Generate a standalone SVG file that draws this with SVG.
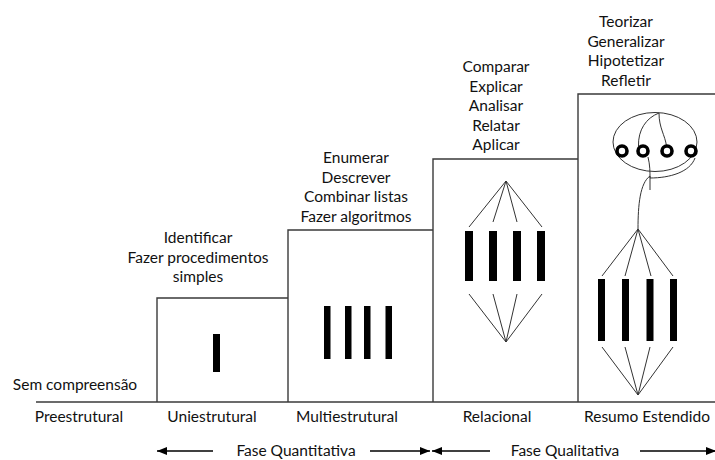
<svg xmlns="http://www.w3.org/2000/svg" width="715" height="460" viewBox="0 0 715 460">
  <style>
    text { font-family: Lato, "Open Sans", "Liberation Sans", sans-serif; font-size: 15.5px; fill: #111; text-anchor: middle; }
    .step { fill: none; stroke: #3a3a3a; stroke-width: 1.4; }
    .bar { fill: #000; }
    .fan { fill: none; stroke: #333; stroke-width: 1; }
    .ring { fill: none; stroke: #000; stroke-width: 3.6; }
    .arrow { stroke: #000; stroke-width: 1.3; fill: none; }
  </style>
  <defs>
    <marker id="head" viewBox="0 0 10 8" refX="10" refY="4" markerWidth="10" markerHeight="8" markerUnits="userSpaceOnUse" orient="auto">
      <path d="M0,0 L10,4 L0,8 Z" fill="#000"/>
    </marker>
  </defs>

  <!-- ground line -->
  <line class="step" x1="36" y1="402" x2="715" y2="402"/>

  <!-- Preestrutural -->
  <g id="preestrutural">
    <text x="75" y="390">Sem compreensão</text>
    <text x="79" y="422">Preestrutural</text>
  </g>

  <!-- Uniestrutural -->
  <g id="uniestrutural">
    <polyline class="step" points="157,402 157,298 288,298"/>
    <rect class="bar" x="213" y="334" width="7" height="38"/>
    <text x="198" y="243">Identificar</text>
    <text x="198" y="262.5">Fazer procedimentos</text>
    <text x="198" y="282">simples</text>
    <text x="212" y="422">Uniestrutural</text>
  </g>

  <!-- Multiestrutural -->
  <g id="multiestrutural">
    <polyline class="step" points="288,402 288,230 433,230"/>
    <rect class="bar" x="324" y="306" width="6.5" height="53"/>
    <rect class="bar" x="345" y="306" width="6.5" height="53"/>
    <rect class="bar" x="364" y="306" width="6.5" height="53"/>
    <rect class="bar" x="385.5" y="306" width="6.5" height="53"/>
    <text x="356" y="163">Enumerar</text>
    <text x="356" y="182.5">Descrever</text>
    <text x="356" y="202">Combinar listas</text>
    <text x="356" y="221.5">Fazer algoritmos</text>
    <text x="347" y="422">Multiestrutural</text>
  </g>

  <!-- Relacional -->
  <g id="relacional">
    <polyline class="step" points="433,402 433,159 578,159"/>
    <rect class="bar" x="465" y="231" width="8" height="50"/>
    <rect class="bar" x="489" y="231" width="8" height="50"/>
    <rect class="bar" x="513" y="231" width="8" height="50"/>
    <rect class="bar" x="537" y="231" width="8" height="50"/>
    <path class="fan" d="M506,181 L469,227 M506,181 L493,222 M506,181 L517,222 M506,181 L542,227"/>
    <path class="fan" d="M506,342 L469,294 M506,342 L493,294 M506,342 L517,294 M506,342 L542,294"/>
    <text x="496" y="72">Comparar</text>
    <text x="496" y="91.5">Explicar</text>
    <text x="496" y="111">Analisar</text>
    <text x="496" y="130.5">Relatar</text>
    <text x="496" y="150">Aplicar</text>
    <text x="497" y="422">Relacional</text>
  </g>

  <!-- Resumo Estendido -->
  <g id="resumo-estendido">
    <polyline class="step" points="578,402 578,94 715,94"/>
    <ellipse class="fan" cx="655" cy="142" rx="42" ry="29.5"/>
    <path class="fan" d="M659,113 C646,118 638,130 638.5,146"/>
    <path class="fan" d="M659,113 C659,128 665,135 666.5,146"/>
    <path class="fan" d="M648,157 C650,165 650,172 650,178"/>
    <path class="fan" d="M650,178 C670,178 690,172 695,158"/>
    <path class="fan" d="M650,176 L650,190"/>
    <path class="fan" d="M650,176 C640,183 638,205 638,229"/>
    <circle class="ring" cx="622" cy="151" r="5"/>
    <circle class="ring" cx="643" cy="151" r="5"/>
    <circle class="ring" cx="667" cy="151" r="5"/>
    <circle class="ring" cx="691" cy="151" r="5"/>
    <rect class="bar" x="598" y="279" width="7" height="62"/>
    <rect class="bar" x="622" y="279" width="7" height="62"/>
    <rect class="bar" x="646.5" y="279" width="7" height="62"/>
    <rect class="bar" x="670" y="279" width="7" height="62"/>
    <path class="fan" d="M638,229 L602,276 M638,229 L625,276 M638,229 L651,276 M638,229 L673,276"/>
    <path class="fan" d="M638,395 L602,347 M638,395 L625,347 M638,395 L650,347 M638,395 L673,347"/>
    <text x="626" y="27">Teorizar</text>
    <text x="626" y="46.5">Generalizar</text>
    <text x="626" y="66">Hipotetizar</text>
    <text x="626" y="85.5">Refletir</text>
    <text x="647" y="422">Resumo Estendido</text>
  </g>

  <!-- phase arrows -->
  <g id="connectors">
    <line class="arrow" x1="213" y1="451" x2="157" y2="451" marker-end="url(#head)"/>
    <line class="arrow" x1="370" y1="451" x2="430" y2="451" marker-end="url(#head)"/>
    <line class="arrow" x1="490" y1="451" x2="432" y2="451" marker-end="url(#head)"/>
    <line class="arrow" x1="640" y1="451" x2="716" y2="451" marker-end="url(#head)"/>
    <text x="296" y="456">Fase Quantitativa</text>
    <text x="565" y="456">Fase Qualitativa</text>
  </g>
</svg>
